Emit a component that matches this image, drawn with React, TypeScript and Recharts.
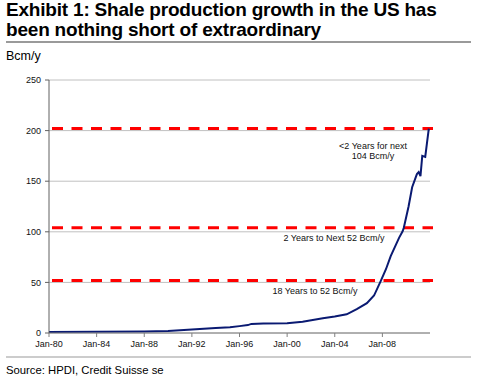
import { LineChart, Line, XAxis, YAxis, CartesianGrid, ReferenceLine } from 'recharts'

// shale gas production (year as decimal, Bcm/y)
const years = [
  1980, 1984, 1988, 1990, 1992, 1994, 1995.2, 1996, 1996.7, 1997, 1998, 2000, 2001.3, 2003, 2004,
  2005, 2005.85, 2006.7, 2007.3, 2007.85, 2008.3, 2008.7, 2009.4, 2009.7, 2009.8, 2010.2, 2010.5,
  2010.9, 2011.05, 2011.2, 2011.35, 2011.6, 2011.75, 2011.9,
]
const production = [
  1, 1.2, 1.5, 2, 3.5, 5, 5.6, 6.8, 7.8, 9, 9.3, 9.6, 11.2, 14.5, 16.2,
  18.5, 23.5, 29.5, 37, 51, 63, 76, 94, 100.5, 104, 125, 144,
  157, 159, 155, 175, 174, 188, 202,
]

const xTicks = [1980, 1984, 1988, 1992, 1996, 2000, 2004, 2008]
const yTicks = [0, 50, 100, 150, 200, 250]

const thresholds = [52, 104, 202]
const thresholdLabels = [['18 Years to 52 Bcm/y'], ['2 Years to Next 52 Bcm/y'], ['<2 Years for next', '104 Bcm/y']]
// label centre, relative to the start of each dashed line
const labelOffsets = [
  { dx: 266, dy: 10 },
  { dx: 285, dy: 10 },
  { dx: 324, dy: 17 },
]

const data = years.map((t, i) => ({ t, v: production[i] }))

const font = '"Liberation Sans", Arial, sans-serif'

function dashedLine(idx: number) {
  return (p: any) => {
    const lines = thresholdLabels[idx]
    const off = labelOffsets[idx]
    return (
      <g>
        <line x1={p.x1 + 3} y1={p.y1} x2={p.x2 + 3} y2={p.y2} stroke="#FF0000" strokeWidth={3} strokeDasharray="11 8.5" />
        <text x={p.x1 + off.dx} y={p.y1 + off.dy} textAnchor="middle" fontSize={9} fontFamily={font} fill="#111">
          {lines.map((l, j) => (
            <tspan key={j} x={p.x1 + off.dx} dy={j === 0 ? '0.35em' : '1.15em'}>{l}</tspan>
          ))}
        </text>
      </g>
    )
  }
}

export default function App() {
  return (
    <div style={{ position: 'absolute', left: 0, top: 0, width: 482, height: 381, background: '#fff', fontFamily: font, overflow: 'hidden' }}>
      <div style={{ position: 'absolute', left: 6, top: 0, fontSize: 19, fontWeight: 700, lineHeight: '19.5px', color: '#000', letterSpacing: '-0.2px' }}>
        Exhibit 1: Shale production growth in the US has<br />been nothing short of extraordinary
      </div>
      <div style={{ position: 'absolute', left: 6, top: 41, width: 465, height: 1.5, background: '#9a9a9a' }} />
      <div style={{ position: 'absolute', left: 6, top: 49, fontSize: 12.5, color: '#000' }}>Bcm/y</div>

      <div style={{ position: 'absolute', left: 0, top: 0 }}>
        <LineChart width={482} height={381} data={data} margin={{ top: 80, right: 52, bottom: 28, left: 9 }}>
          <CartesianGrid vertical={false} stroke="#c0c0c0" />
          <XAxis
            dataKey="t"
            type="number"
            domain={[1980, 2012]}
            ticks={xTicks}
            tickFormatter={(y: number) => 'Jan-' + String(y).slice(2)}
            height={20}
            tickSize={4}
            tickMargin={4}
            stroke="#808080"
            tick={{ fontSize: 9, fill: '#111', fontFamily: font }}
          />
          <YAxis
            domain={[0, 250]}
            ticks={yTicks}
            width={40}
            tickSize={4}
            tickMargin={4}
            stroke="#606060"
            tick={{ fontSize: 9, fill: '#111', fontFamily: font }}
          />
          {thresholds.map((y, i) => (
            <ReferenceLine key={y} y={y} shape={dashedLine(i)} />
          ))}
          <Line dataKey="v" type="linear" stroke="#0a1a72" strokeWidth={2} dot={false} isAnimationActive={false} />
        </LineChart>
      </div>

      <div style={{ position: 'absolute', left: 6, top: 356, width: 465, height: 2, background: '#cccccc' }} />
      <div style={{ position: 'absolute', left: 6, top: 364, fontSize: 11.3, color: '#000' }}>Source: HPDI, Credit Suisse se</div>
    </div>
  )
}
